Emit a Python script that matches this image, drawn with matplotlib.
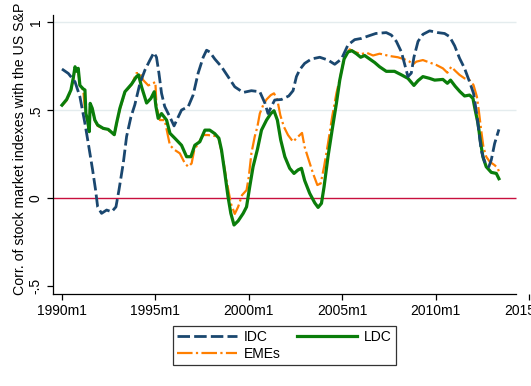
import matplotlib
matplotlib.use("Agg")
import matplotlib.pyplot as plt

plt.rcParams["font.family"] = ["Liberation Sans", "DejaVu Sans"]

# decimal year / correlation
idc_t = [1990.0, 1990.34, 1990.7, 1990.96, 1991.23, 1991.41, 1991.64, 1991.8, 1991.91,
         1992.12, 1992.39, 1992.66, 1992.89, 1993.05, 1993.28, 1993.46, 1993.69, 1993.9,
         1994.08, 1994.17, 1994.44, 1994.71, 1994.92, 1995.06, 1995.19, 1995.33, 1995.5,
         1995.78, 1996.0, 1996.22, 1996.4, 1996.76, 1997.02, 1997.29, 1997.56, 1997.74,
         1997.91, 1998.18, 1998.54, 1998.89, 1999.25, 1999.7, 2000.14, 2000.59, 2000.86,
         2001.03, 2001.21, 2001.39, 2001.75, 2002.14, 2002.37, 2002.55, 2002.73, 2002.99,
         2003.35, 2003.8, 2004.24, 2004.6, 2004.96, 2005.31, 2005.67, 2006.03, 2006.38,
         2006.8, 2007.36, 2007.63, 2007.9, 2008.17, 2008.38, 2008.52, 2008.7, 2008.84,
         2009.06, 2009.32, 2009.68, 2010.12, 2010.48, 2010.75, 2011.02, 2011.28, 2011.55,
         2011.82, 2012.03, 2012.17, 2012.31, 2012.44, 2012.62, 2012.85, 2012.98, 2013.16,
         2013.39]
idc_v = [0.733, 0.708, 0.66, 0.576, 0.424, 0.31, 0.16, 0.045, -0.05,
         -0.087, -0.068, -0.078, -0.05, 0.045, 0.197, 0.35, 0.46, 0.53,
         0.61, 0.65, 0.727, 0.784, 0.826, 0.80, 0.71, 0.595, 0.52,
         0.46, 0.41, 0.46, 0.50, 0.52, 0.585, 0.71, 0.80, 0.84,
         0.83, 0.79, 0.746, 0.69, 0.632, 0.60, 0.61, 0.604, 0.54,
         0.48, 0.52, 0.557, 0.56, 0.58, 0.61, 0.69, 0.73, 0.765,
         0.79, 0.80, 0.784, 0.76, 0.79, 0.87, 0.90, 0.907, 0.92,
         0.935, 0.94, 0.926, 0.89, 0.83, 0.746, 0.69, 0.71, 0.80,
         0.89, 0.93, 0.95, 0.94, 0.935, 0.917, 0.865, 0.795, 0.737,
         0.66, 0.595, 0.50, 0.386, 0.273, 0.206, 0.178, 0.216, 0.31,
         0.39]

ldc_t = [1990.0, 1990.25, 1990.48, 1990.6, 1990.7, 1990.8, 1990.87, 1990.96, 1991.14,
         1991.23, 1991.28, 1991.37, 1991.46, 1991.51, 1991.62, 1991.76, 1991.91, 1992.21,
         1992.48, 1992.8, 1992.92, 1993.1, 1993.37, 1993.73, 1993.99, 1994.1, 1994.26,
         1994.53, 1994.76, 1994.94, 1995.03, 1995.15, 1995.33, 1995.6, 1995.78, 1996.04,
         1996.4, 1996.67, 1996.9, 1997.11, 1997.38, 1997.65, 1997.91, 1998.18, 1998.4,
         1998.54, 1998.72, 1998.89, 1999.04, 1999.21, 1999.43, 1999.7, 1999.88, 2000.05,
         2000.23, 2000.47, 2000.68, 2000.95, 2001.18, 2001.35, 2001.53, 2001.71, 2001.93,
         2002.19, 2002.42, 2002.64, 2002.82, 2002.99, 2003.26, 2003.53, 2003.71, 2003.89,
         2004.03, 2004.24, 2004.46, 2004.69, 2004.87, 2005.1, 2005.31, 2005.52, 2005.76,
         2005.99, 2006.2, 2006.47, 2006.74, 2007.0, 2007.36, 2007.8, 2008.17, 2008.52,
         2008.84, 2009.06, 2009.32, 2009.68, 2009.95, 2010.39, 2010.63, 2010.8, 2011.05,
         2011.3, 2011.55, 2011.82, 2012.0, 2012.12, 2012.27, 2012.39, 2012.53, 2012.71,
         2012.98, 2013.25, 2013.39]
ldc_v = [0.528, 0.56, 0.614, 0.68, 0.746, 0.72, 0.737, 0.64, 0.62,
         0.614, 0.48, 0.443, 0.377, 0.538, 0.51, 0.443, 0.415, 0.396,
         0.39, 0.36, 0.424, 0.51, 0.604, 0.648, 0.69, 0.70, 0.632,
         0.54, 0.566, 0.604, 0.52, 0.453, 0.48, 0.443, 0.368, 0.34,
         0.30, 0.235, 0.235, 0.30, 0.32, 0.386, 0.386, 0.366, 0.34,
         0.273, 0.14, 0.007, -0.087, -0.153, -0.13, -0.087, -0.05, 0.064,
         0.178, 0.28, 0.386, 0.443, 0.48, 0.496, 0.443, 0.33, 0.235,
         0.169, 0.14, 0.16, 0.169, 0.10, 0.027, -0.027, -0.053, -0.03,
         0.064, 0.235, 0.386, 0.538, 0.67, 0.79, 0.83, 0.837, 0.82,
         0.80, 0.81, 0.79, 0.77, 0.746, 0.72, 0.72, 0.70, 0.68,
         0.64, 0.667, 0.69, 0.68, 0.67, 0.674, 0.652, 0.67, 0.635,
         0.605, 0.58, 0.585, 0.566, 0.50, 0.424, 0.33, 0.235, 0.178,
         0.146, 0.14, 0.11]

eme_t = [1990.0, 1990.25, 1990.48, 1990.6, 1990.7, 1990.8, 1990.87, 1990.96, 1991.14,
         1991.23, 1991.3, 1991.37, 1991.46, 1991.51, 1991.62, 1991.76, 1991.91, 1992.21,
         1992.48, 1992.8, 1992.92, 1993.1, 1993.37, 1993.73, 1993.99, 1994.17, 1994.35,
         1994.62, 1994.88, 1995.0, 1995.06, 1995.24, 1995.5, 1995.68, 1995.78, 1996.04,
         1996.31, 1996.58, 1996.76, 1996.94, 1997.08, 1997.29, 1997.56, 1997.82, 1998.09,
         1998.36, 1998.45, 1998.63, 1998.81, 1999.04, 1999.25, 1999.43, 1999.64, 1999.88,
         2000.0, 2000.14, 2000.32, 2000.46, 2000.59, 2000.77, 2000.95, 2001.18, 2001.35,
         2001.53, 2001.69, 2001.88, 2002.1, 2002.37, 2002.55, 2002.73, 2002.85, 2002.99,
         2003.21, 2003.44, 2003.67, 2003.85, 2004.03, 2004.24, 2004.46, 2004.69, 2004.92,
         2005.13, 2005.4, 2005.67, 2006.03, 2006.3, 2006.65, 2007.0, 2007.1, 2007.54,
         2007.98, 2008.34, 2008.61, 2008.79, 2008.97, 2009.32, 2009.68, 2010.04, 2010.39,
         2010.63, 2010.84, 2011.05, 2011.28, 2011.55, 2011.82, 2012.03, 2012.21, 2012.31,
         2012.44, 2012.56, 2012.71, 2012.9, 2013.16, 2013.33, 2013.42]
eme_v = [0.525, 0.555, 0.61, 0.67, 0.74, 0.715, 0.73, 0.635, 0.615,
         0.50, 0.46, 0.44, 0.40, 0.53, 0.50, 0.44, 0.41, 0.395,
         0.385, 0.36, 0.42, 0.505, 0.60, 0.645, 0.71, 0.71, 0.67,
         0.64, 0.652, 0.66, 0.52, 0.443, 0.443, 0.35, 0.30, 0.273,
         0.254, 0.197, 0.178, 0.197, 0.273, 0.31, 0.358, 0.358, 0.354,
         0.35, 0.31, 0.216, 0.10, -0.03, -0.09, -0.05, 0.017, 0.045,
         0.12, 0.254, 0.35, 0.405, 0.48, 0.528, 0.56, 0.585, 0.595,
         0.557, 0.47, 0.405, 0.358, 0.32, 0.34, 0.358, 0.37, 0.29,
         0.216, 0.14, 0.074, 0.083, 0.178, 0.31, 0.46, 0.595, 0.70,
         0.80, 0.845, 0.83, 0.818, 0.826, 0.81, 0.82, 0.818, 0.807,
         0.80, 0.788, 0.775, 0.76, 0.775, 0.784, 0.77, 0.756, 0.737,
         0.712, 0.746, 0.723, 0.70, 0.68, 0.67, 0.642, 0.576, 0.50,
         0.386, 0.29, 0.235, 0.206, 0.187, 0.169, 0.14]

xticks = [1990, 1995, 2000, 2005, 2010, 2015]
xlabels = ["1990m1", "1995m1", "2000m1", "2005m1", "2010m1", "2015m1"]
yticks = [-0.5, 0, 0.5, 1]
ylabels = ["-.5", "0", ".5", "1"]

x0, x_end, x1 = 1989.52, 2014.33, 2015.0
fig = plt.figure(figsize=(5.31, 3.86), dpi=100)
ax = fig.add_axes([53 / 531, 92 / 386, 476 / 531, 279 / 386])
ax.set_xlim(x0, x1)
ax.set_ylim(-0.545, 1.04)

ax.hlines([0.5, 1.0], x0, x_end, color="#e4ecee", lw=1, zorder=1)
ax.hlines(0, x0, x_end, color="#c8103e", lw=1, zorder=1.5)

ax.plot(eme_t, eme_v, color="#ff7f00", lw=1.6, ls=(0, (7, 1.5, 1, 1.5)), zorder=2, label="EMEs")
ax.plot(ldc_t, ldc_v, color="#0a7d0a", lw=2.3, zorder=3, label="LDC")
ax.plot(idc_t, idc_v, color="#1a476f", lw=2.0, ls=(0, (4.5, 1.5)), zorder=4, label="IDC")

for s in ["top", "right"]:
    ax.spines[s].set_visible(False)
ax.spines["bottom"].set_bounds(x0, x_end)
ax.spines["left"].set_linewidth(0.9)
ax.spines["bottom"].set_linewidth(0.9)

ax.set_xticks(xticks)
ax.set_xticklabels(xlabels, fontsize=10)
ax.set_yticks(yticks)
ax.set_yticklabels(ylabels, fontsize=10, rotation=90, va="center")
ax.tick_params(axis="both", length=4, width=0.9, colors="black")
ax.set_ylabel("Corr. of stock market indexes with the US S&P", fontsize=10.2)
ax.yaxis.set_label_coords(-0.055, 0.52)

h, l = ax.get_legend_handles_labels()
order = [2, 0, 1]
leg = fig.legend([h[i] for i in order], [l[i] for i in order], ncol=2,
                 loc="center", bbox_to_anchor=(284.5 / 531, 1 - 345.5 / 386),
                 frameon=True, fancybox=False, edgecolor="black", fontsize=10,
                 handlelength=4.3, columnspacing=1.2, borderpad=0.3,
                 labelspacing=0.2, handletextpad=0.5)
leg.get_frame().set_linewidth(0.9)

fig.savefig("out.png", dpi=100, facecolor="white")
